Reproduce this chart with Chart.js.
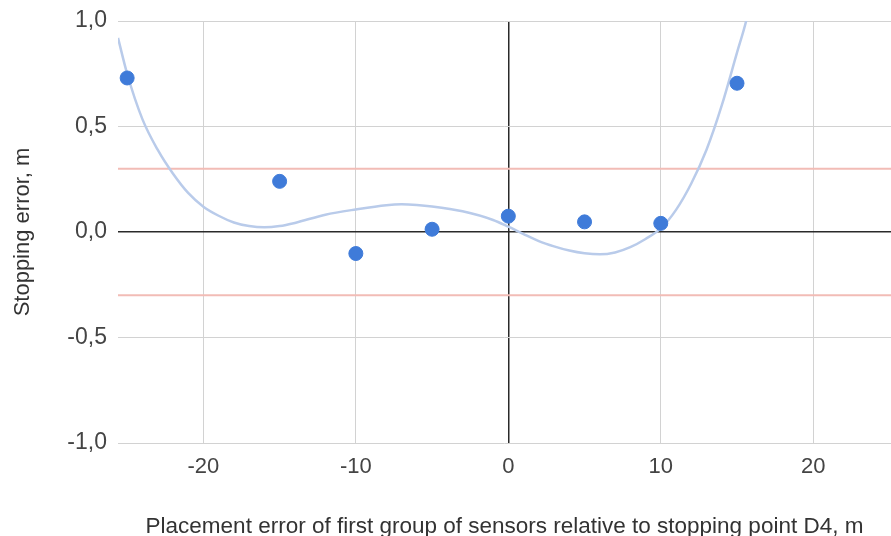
<!DOCTYPE html>
<html>
<head>
<meta charset="utf-8">
<script src="https://cdn.jsdelivr.net/npm/chart.js@4"></script>
<style>
html,body{margin:0;padding:0;background:#fff;overflow:hidden;}
#wrap{width:891px;height:536px;position:relative;overflow:hidden;}
#c{display:block;}
</style>
</head>
<body>
<div id="wrap"><canvas id="c" width="899" height="536"></canvas></div>
<script>
// Measured points
const placementError = [-25, -15, -10, -5, 0, 5, 10, 15];
const stoppingError = [0.73, 0.24, -0.102, 0.013, 0.075, 0.048, 0.041, 0.705];

// Trendline
const trendX = [-25.6, -25, -24, -23, -22, -21, -20, -19, -18, -17, -16, -15, -14, -12, -10, -8, -7, -6, -5, -3, -1, 0, 1, 2, 3, 4, 5, 6, 7, 8, 9, 10, 11, 12, 13, 14, 15, 15.6, 16.2];
const trendY = [0.92, 0.75, 0.535, 0.39, 0.277, 0.185, 0.12, 0.077, 0.045, 0.028, 0.022, 0.028, 0.043, 0.082, 0.107, 0.127, 0.131, 0.128, 0.121, 0.098, 0.057, 0.025, -0.01, -0.043, -0.068, -0.088, -0.101, -0.106, -0.097, -0.072, -0.033, 0.017, 0.105, 0.23, 0.39, 0.6, 0.85, 1.0, 1.2];

// Tolerance limits
const limitLines = [0.3, -0.3];

// Axes
const xRange = [-25.6, 25.1];
const yRange = [-1, 1];
const xTicks = [-20, -10, 0, 10, 20];
const yTicks = [-1, -0.5, 0, 0.5, 1];
const yTickLabels = ['-1,0', '-0,5', '0,0', '0,5', '1,0'];

const xTitle = 'Placement error of first group of sensors relative to stopping point D4, m';
const yTitle = 'Stopping error, m';

const FONT = '"Liberation Sans", Arial, sans-serif';

const datasets = [
  {
    label: 'Stopping error',
    data: placementError.map((x, i) => ({x, y: stoppingError[i]})),
    backgroundColor: '#3f7bd9',
    borderColor: '#3f7bd9',
    pointRadius: 7,
    pointHoverRadius: 7,
    showLine: false
  },
  {
    label: 'Trend',
    data: trendX.map((x, i) => ({x, y: trendY[i]})),
    borderColor: '#b9cbea',
    borderWidth: 2.5,
    pointRadius: 0,
    showLine: true,
    cubicInterpolationMode: 'monotone',
    fill: false
  }
].concat(limitLines.map(v => ({
  label: 'Limit ' + v,
  data: [{x: xRange[0], y: v}, {x: xRange[1], y: v}],
  borderColor: '#f2bcb6',
  borderWidth: 2,
  pointRadius: 0,
  showLine: true,
  fill: false
})));

new Chart(document.getElementById('c'), {
  type: 'scatter',
  data: {datasets},
  options: {
    responsive: false,
    animation: false,
    layout: {padding: {top: 21, right: 0, bottom: 0, left: 0}},
    plugins: {legend: {display: false}, tooltip: {enabled: false}},
    scales: {
      x: {
        type: 'linear',
        min: xRange[0],
        max: xRange[1],
        afterBuildTicks: s => { s.ticks = xTicks.map(v => ({value: v})); },
        afterFit: s => { s.height = 93; s.paddingLeft = 0; s.paddingRight = 0; },
        border: {display: false},
        grid: {
          drawTicks: false,
          color: c => c.tick && c.tick.value === 0 ? '#2a2a2a' : '#d2d2d2',
          lineWidth: c => c.tick && c.tick.value === 0 ? 1.5 : 1
        },
        ticks: {
          padding: 11,
          color: '#444',
          font: {family: FONT, size: 22}
        },
        title: {
          display: true,
          text: xTitle,
          color: '#333',
          font: {family: FONT, size: 22.5, lineHeight: 0.85},
          padding: {top: 0, bottom: 0}
        }
      },
      y: {
        type: 'linear',
        min: yRange[0],
        max: yRange[1],
        afterBuildTicks: s => { s.ticks = yTicks.map(v => ({value: v})); },
        afterFit: s => { s.width = 118; s.paddingTop = 0; s.paddingBottom = 0; },
        border: {display: false},
        grid: {
          drawTicks: false,
          color: c => c.tick && c.tick.value === 0 ? '#2a2a2a' : '#d2d2d2',
          lineWidth: c => c.tick && c.tick.value === 0 ? 1.5 : 1
        },
        ticks: {
          padding: 11,
          color: '#444',
          font: {family: FONT, size: 23},
          callback: v => yTickLabels[yTicks.indexOf(v)]
        },
        title: {
          display: true,
          text: yTitle,
          color: '#333',
          font: {family: FONT, size: 22, lineHeight: 1.2},
          padding: {top: 10, bottom: 0}
        }
      }
    }
  }
});
</script>
</body>
</html>
